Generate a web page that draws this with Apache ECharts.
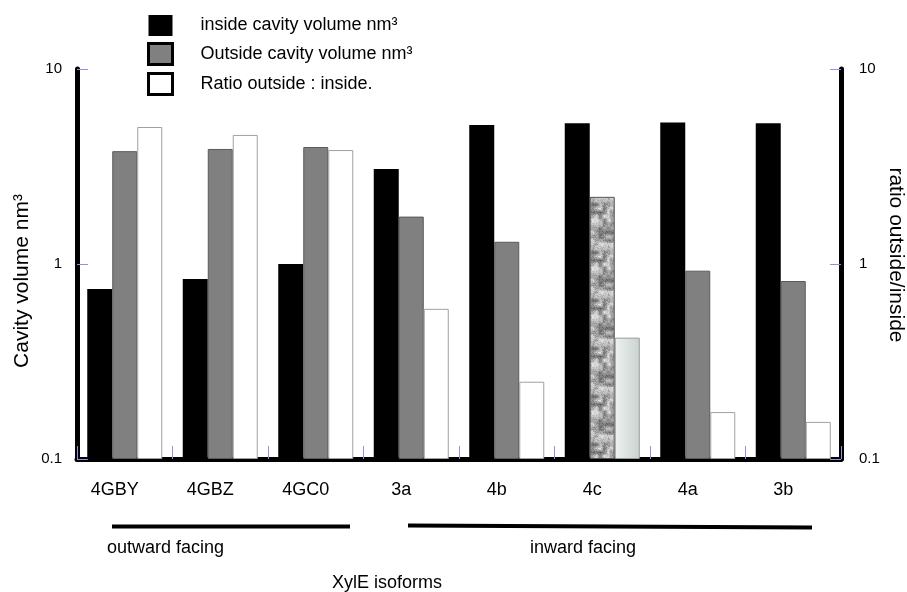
<!DOCTYPE html>
<html>
<head>
<meta charset="utf-8">
<script src="https://cdn.jsdelivr.net/npm/echarts@6/dist/echarts.min.js"></script>
<style>
html,body{margin:0;padding:0;background:#fff;}
#chart{width:907px;height:592px;}
</style>
</head>
<body>
<div id="chart"></div>
<script>
// ---- data ----
var categories = ['4GBY', '4GBZ', '4GC0', '3a', '4b', '4c', '4a', '3b'];
var insideVolume = [0.744, 0.838, 1.0, 3.07, 5.16, 5.27, 5.31, 5.27];
var outsideVolume = [3.79, 3.89, 3.98, 1.75, 1.30, 2.21, 0.924, 0.818];
var ratioOutIn = [5.04, 4.59, 3.84, 0.589, 0.249, 0.419, 0.174, 0.155];
var seriesNames = ['inside cavity volume nm\u00B3', 'Outside cavity volume nm\u00B3', 'Ratio outside : inside.'];
var leftAxisName = 'Cavity volume nm\u00B3';
var rightAxisName = 'ratio outside/inside';
var groupLabels = ['outward facing', 'inward facing'];
var xTitle = 'XylE isoforms';
var highlightIndex = 5;

var FONT = "'Liberation Sans', Arial, Helvetica, sans-serif";

// deterministic mottled texture for the highlighted bar
function makeTexture() {
  var c = document.createElement('canvas');
  var W = 48, H = 48;
  c.width = W; c.height = H;
  var ctx = c.getContext('2d');
  var img = ctx.createImageData(W, H);
  function hash(i, j) {
    var s = Math.sin(i * 127.1 + j * 311.7) * 43758.5453;
    return s - Math.floor(s);
  }
  var cell = 4, n = W / cell;
  function grid(i, j) { return hash(((i % n) + n) % n, ((j % n) + n) % n); }
  for (var y = 0; y < H; y++) {
    for (var x = 0; x < W; x++) {
      var gx = x / cell, gy = y / cell;
      var i0 = Math.floor(gx), j0 = Math.floor(gy);
      var fx = gx - i0, fy = gy - j0;
      fx = fx * fx * (3 - 2 * fx); fy = fy * fy * (3 - 2 * fy);
      var a = grid(i0, j0), b = grid(i0 + 1, j0), cc = grid(i0, j0 + 1), d = grid(i0 + 1, j0 + 1);
      var v = (a * (1 - fx) + b * fx) * (1 - fy) + (cc * (1 - fx) + d * fx) * fy;
      var fine = hash(x + 1000, y + 2000);
      var g = 105 + v * 115 + (fine - 0.5) * 45;
      g = Math.max(60, Math.min(228, g));
      var k = (y * W + x) * 4;
      img.data[k] = g; img.data[k + 1] = g; img.data[k + 2] = g; img.data[k + 3] = 255;
    }
  }
  ctx.putImageData(img, 0, 0);
  return c;
}
var texture = makeTexture();

var outsideData = outsideVolume.map(function (v, i) {
  if (i === highlightIndex) {
    return { value: v, itemStyle: { color: { image: texture, repeat: 'repeat' }, borderColor: '#555', borderWidth: 1 } };
  }
  return v;
});
var ratioData = ratioOutIn.map(function (v, i) {
  if (i === highlightIndex) {
    return { value: v, itemStyle: {
      color: { type: 'linear', x: 0, y: 0, x2: 1, y2: 0,
        colorStops: [{ offset: 0, color: '#eef2f0' }, { offset: 1, color: '#c9d3cf' }] },
      borderColor: '#999', borderWidth: 1 } };
  }
  return v;
});

function logLabel(v) { return String(+(+v).toPrecision(3)); }

var blueTick = '#8f8ff0';

function yAxisCfg(pos, margin) {
  return {
    type: 'log', logBase: 10, min: 0.1, max: 10, startValue: 0.1,
    position: pos,
    axisLine: { show: true, lineStyle: { color: '#000', width: 5 } },
    axisTick: { show: true, inside: true, length: 11, lineStyle: { color: blueTick, width: 1 } },
    axisLabel: { show: true, fontSize: 15, color: '#000', margin: margin, fontFamily: FONT, formatter: logLabel },
    splitLine: { show: false },
    minorTick: { show: false },
    minorSplitLine: { show: false }
  };
}

var chart = echarts.init(document.getElementById('chart'), null, { renderer: 'canvas' });
chart.setOption({
  backgroundColor: '#fff',
  animation: false,
  textStyle: { fontFamily: FONT, color: '#000' },
  grid: { left: 77, right: 66, top: 69, bottom: 133, containLabel: false, outerBoundsMode: 'none' },
  legend: {
    orient: 'vertical', left: 147, top: 15, padding: 0,
    itemWidth: 24, itemHeight: 21, itemGap: 6,
    selectedMode: false,
    icon: 'rect',
    textStyle: { fontSize: 18, lineHeight: 21, color: '#000', fontFamily: FONT, padding: [0, 0, 0, 23] },
    data: [
      { name: seriesNames[0], itemStyle: { color: '#000', borderColor: '#000', borderWidth: 0 } },
      { name: seriesNames[1], itemStyle: { color: '#808080', borderColor: '#000', borderWidth: 3 } },
      { name: seriesNames[2], itemStyle: { color: '#fff', borderColor: '#000', borderWidth: 3 } }
    ]
  },
  xAxis: {
    type: 'category', data: categories,
    axisLine: { show: true, lineStyle: { color: '#000', width: 5 } },
    axisTick: { show: true, inside: true, length: 13, interval: 0, lineStyle: { color: blueTick, width: 1 } },
    axisLabel: { interval: 0, margin: 22, fontSize: 18, color: '#000', fontFamily: FONT, padding: [0, 20, 0, 0] },
    splitLine: { show: false }
  },
  yAxis: [
    yAxisCfg('left', 15),
    yAxisCfg('right', 18)
  ],
  series: [
    { name: seriesNames[0], type: 'bar', yAxisIndex: 0, data: insideVolume,
      barWidth: 25, barGap: '0%',
      itemStyle: { color: '#000', borderColor: '#333', borderWidth: 0 } },
    { name: seriesNames[1], type: 'bar', yAxisIndex: 0, data: outsideData,
      barWidth: 25, barGap: '0%',
      itemStyle: { color: '#808080', borderColor: '#5a5a5a', borderWidth: 1 } },
    { name: seriesNames[2], type: 'bar', yAxisIndex: 1, data: ratioData,
      barWidth: 25, barGap: '0%',
      itemStyle: { color: '#fff', borderColor: '#a0a0a0', borderWidth: 1 } }
  ],
  graphic: [
    { type: 'text', x: 22, y: 281, rotation: Math.PI / 2,
      style: { text: leftAxisName, font: '21px ' + FONT, fill: '#000', align: 'center', verticalAlign: 'middle' } },
    { type: 'text', x: 896, y: 255, rotation: -Math.PI / 2,
      style: { text: rightAxisName, font: '21px ' + FONT, fill: '#000', align: 'center', verticalAlign: 'middle' } },
    { type: 'line', shape: { x1: 112, y1: 526.5, x2: 350, y2: 526.5 }, style: { stroke: '#000', lineWidth: 4 } },
    { type: 'line', shape: { x1: 408, y1: 525.5, x2: 812, y2: 527.5 }, style: { stroke: '#000', lineWidth: 4 } },
    { type: 'text', left: 107, top: 539, style: { text: groupLabels[0], font: '18px ' + FONT, fill: '#000' } },
    { type: 'text', left: 530, top: 539, style: { text: groupLabels[1], font: '18px ' + FONT, fill: '#000' } },
    { type: 'text', left: 332, top: 574, style: { text: xTitle, font: '18px ' + FONT, fill: '#000' } }
  ]
});
</script>
</body>
</html>
